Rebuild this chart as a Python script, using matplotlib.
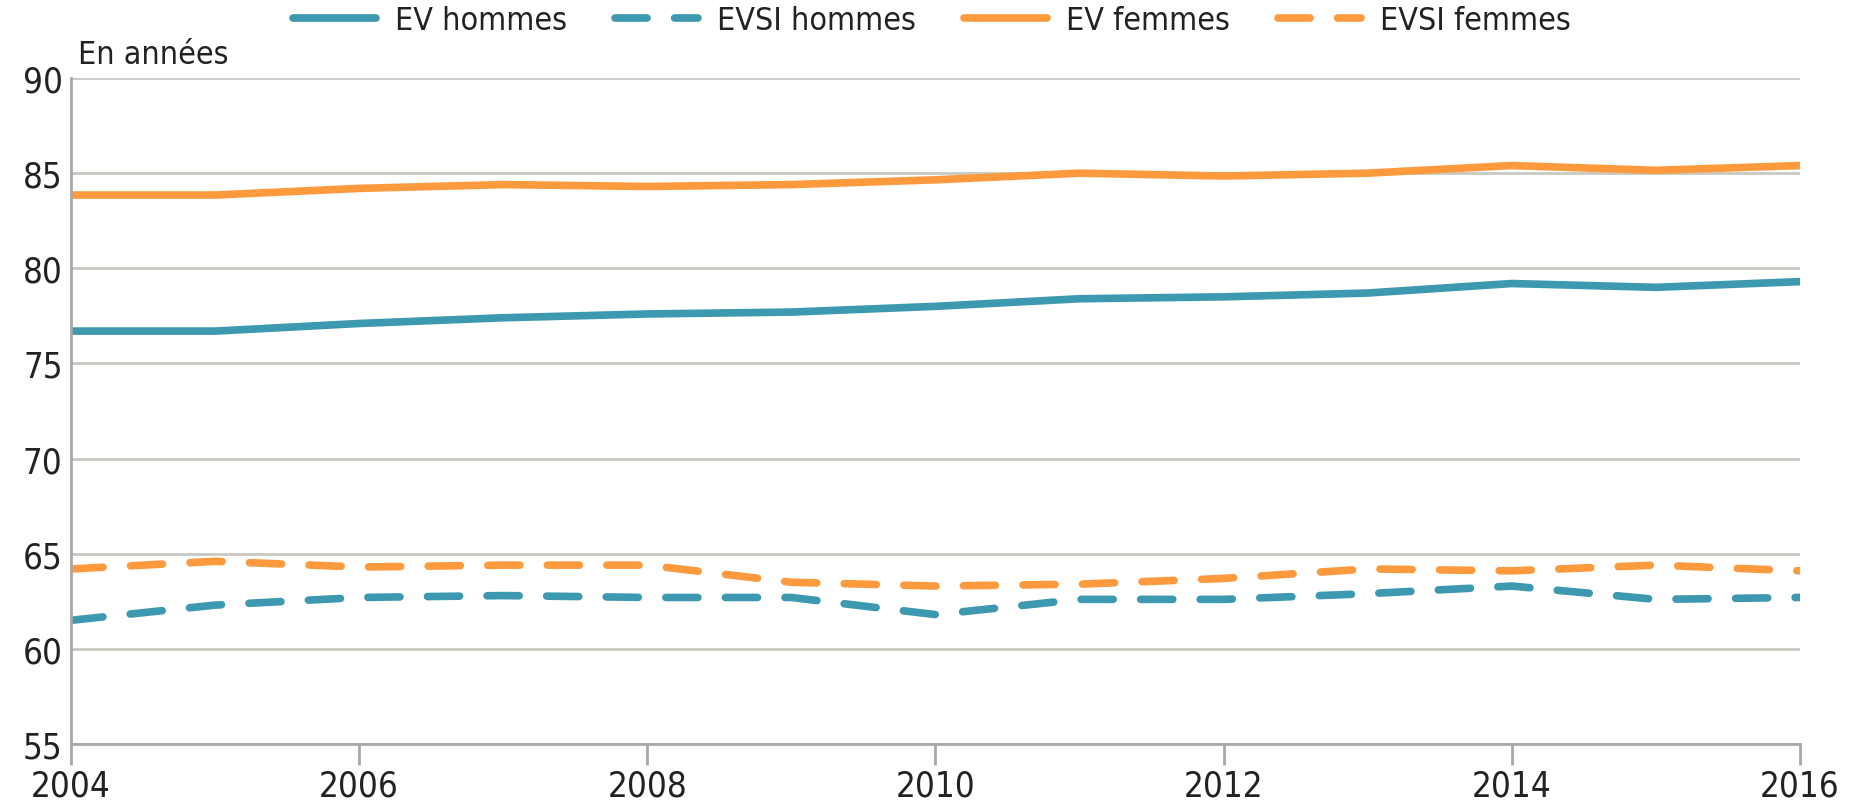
import matplotlib
matplotlib.use("Agg")
import matplotlib.pyplot as plt
from matplotlib import font_manager

# data
years = [2004, 2005, 2006, 2007, 2008, 2009, 2010, 2011, 2012, 2013, 2014, 2015, 2016]
ev_hommes = [76.7, 76.7, 77.1, 77.4, 77.6, 77.7, 78.0, 78.4, 78.5, 78.7, 79.2, 79.0, 79.3]
evsi_hommes = [61.5, 62.3, 62.7, 62.8, 62.7, 62.7, 61.8, 62.6, 62.6, 62.9, 63.3, 62.6, 62.7]
ev_femmes = [83.85, 83.85, 84.2, 84.4, 84.3, 84.4, 84.65, 85.0, 84.85, 85.0, 85.4, 85.15, 85.4]
evsi_femmes = [64.2, 64.6, 64.3, 64.4, 64.4, 63.5, 63.3, 63.4, 63.7, 64.2, 64.1, 64.4, 64.1]

x_ticks = [2004, 2006, 2008, 2010, 2012, 2014, 2016]
y_ticks = [55, 60, 65, 70, 75, 80, 85, 90]

teal = "#3d99b0"
orange = "#fe9a3e"
grid_col = "#c9c9c2"
text_col = "#222222"

names = {f.name for f in font_manager.fontManager.ttflist}
if "Liberation Sans Narrow" in names:
    plt.rcParams["font.family"] = ["Liberation Sans Narrow", "DejaVu Sans"]
else:
    plt.rcParams["font.family"] = ["DejaVu Sans"]
    plt.rcParams["font.stretch"] = "condensed"

fig = plt.figure(figsize=(18.54, 8.04), dpi=100)
ax = fig.add_axes([0.0383, 0.0734, 0.9325, 0.8283])

lw = 5.5
common = dict(solid_capstyle="round", dash_capstyle="round", solid_joinstyle="round")
ax.plot(years, ev_hommes, color=teal, lw=lw, label="EV hommes", **common)
ax.plot(years, evsi_hommes, color=teal, lw=lw, dashes=(4.2, 3.6), label="EVSI hommes", **common)
ax.plot(years, ev_femmes, color=orange, lw=lw, label="EV femmes", **common)
ax.plot(years, evsi_femmes, color=orange, lw=lw, dashes=(4.2, 3.6), label="EVSI femmes", **common)

ax.set_xlim(2004, 2016)
ax.set_ylim(55, 90)
ax.set_xticks(x_ticks)
ax.set_yticks(y_ticks)
ax.yaxis.grid(True, color=grid_col, lw=2)
ax.set_axisbelow(True)

for s in ["top", "right"]:
    ax.spines[s].set_visible(False)
for s in ["left", "bottom"]:
    ax.spines[s].set_color("#a8a8a4")
    ax.spines[s].set_linewidth(2)

ax.tick_params(axis="x", length=15, width=2, color="#a8a8a4", labelsize=25,
               labelcolor=text_col, pad=3)
ax.tick_params(axis="y", length=0, labelsize=25, labelcolor=text_col, pad=6)

ax.text(0.004, 1.012, "En années", transform=ax.transAxes, fontsize=23,
        color=text_col, ha="left", va="bottom")

leg = ax.legend(loc="center", bbox_to_anchor=(0.498, 1.086), ncol=4,
                frameon=False, fontsize=23, handlelength=2.6, handletextpad=0.6,
                columnspacing=1.5, borderaxespad=0, borderpad=0)
for t in leg.get_texts():
    t.set_color(text_col)

fig.savefig("out.png", dpi=100)
